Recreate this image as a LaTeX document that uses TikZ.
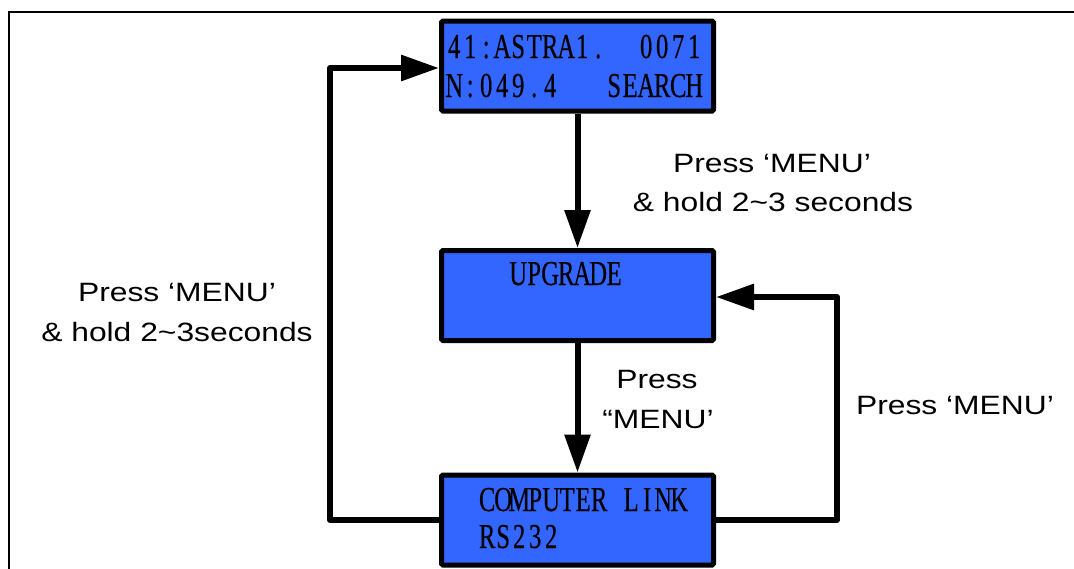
\documentclass[tikz,border=0pt]{standalone}
\usepackage{fontspec}
\usetikzlibrary{arrows.meta}
\newfontfamily\lblfont[FakeStretch=1.2]{Liberation Sans}
\newfontfamily\lcdfont[FakeStretch=0.7,FakeBold=0.4]{Liberation Serif}
\definecolor{lcdblue}{RGB}{51,102,255}
\ExplSyntaxOn
\NewDocumentCommand \lcdstr { m } { \tl_map_inline:nn {#1} { \makebox[16pt]{##1} } }
\ExplSyntaxOff
\begin{document}
\begin{tikzpicture}[x=1pt,y=-1pt,
  lcd/.style={draw=black, line width=5pt, fill=lcdblue, minimum width=272pt, minimum height=90pt, rounded corners=1.5pt, inner sep=0pt},
  lcdtext/.style={anchor=base west, inner sep=0pt, font=\lcdfont\fontsize{35}{35}\selectfont},
  lbl/.style={anchor=base, inner sep=0pt, font=\lblfont\fontsize{26.5}{32}\selectfont},
  flow/.style={line width=6pt, line join=round, -{Triangle[length=38pt,width=25pt]}},
  framestyle/.style={line width=2.6pt}]
\useasboundingbox (0,0) rectangle (1074,568);
\draw[framestyle] (9,569) -- (9,12) -- (1075,12);
% boxes
\node[lcd] (top) at (577.5,66) {};
\node[lcd] (upg) at (577.5,295.5) {};
\node[lcd] (bot) at (577.5,520) {};
% box texts
\node[lcdtext] (t1) at (446,58) {\lcdstr{41:ASTRA1.{ }{ }0071}};
\node[lcdtext] (t2) at (446,97) {\lcdstr{N:049.4{ }{ }{ }SEARCH}};
\node[lcdtext] (u1) at (510,285) {\lcdstr{UPGRADE}};
\node[lcdtext] (c1) at (479,511) {\lcdstr{COMPUTER{ }LINK}};
\node[lcdtext] (c2) at (479,548) {\lcdstr{RS232}};
% connectors
\coordinate (lA) at (330,520);
\coordinate (lB) at (330,68);
\coordinate (rA) at (837,520);
\coordinate (rB) at (837,297);
\draw[flow] (top.south) -- (upg.north);
\draw[flow] (upg.south) -- (bot.north);
\draw[flow] (bot.west) -- (lA) -- (lB) -- (lB -| top.west);
\draw[flow] (bot.east) -- (rA) -- (rB) -- (rB -| upg.east);
% labels
\node[lbl] (l1a) at (772,172) {Press ‘MENU’};
\node[lbl] (l1b) at (773,211) {\& hold 2\textasciitilde3 seconds};
\node[lbl] (l2a) at (177,301) {Press ‘MENU’};
\node[lbl] (l2b) at (177,341) {\& hold 2\textasciitilde3seconds};
\node[lbl] (l3a) at (657,388) {Press};
\node[lbl] (l3b) at (658,428) {“MENU’};
\node[lbl] (l4) at (955,414) {Press ‘MENU’};
\end{tikzpicture}
\end{document}
